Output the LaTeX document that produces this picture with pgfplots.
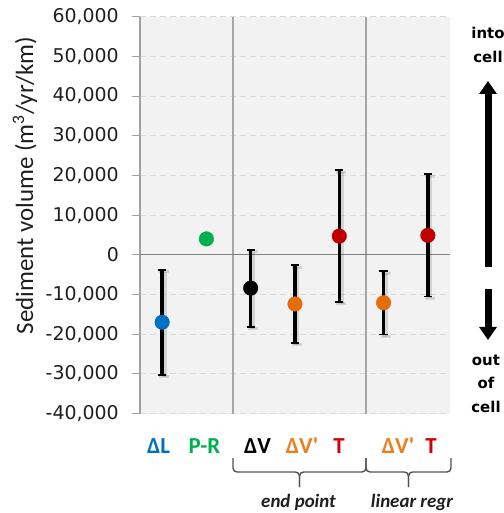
\documentclass[border=0pt]{standalone}
\usepackage{fontspec}
\setmainfont{Carlito}
\newfontfamily\carplain{Carlito}[Ligatures=TeXOff]
\newfontfamily\dejavu{DejaVu Sans}
\usepackage{pgfplots}
\pgfplotsset{compat=1.18}
\usetikzlibrary{arrows.meta}
\definecolor{cblue}{RGB}{0,112,192}
\definecolor{cgreen}{RGB}{0,176,80}
\definecolor{corange}{RGB}{228,108,10}
\definecolor{corangetxt}{RGB}{240,125,30}
\definecolor{cred}{RGB}{192,0,0}
\definecolor{credtxt}{RGB}{210,0,0}
\definecolor{bggray}{RGB}{242,242,242}
\definecolor{gridgray}{RGB}{217,217,217}
\definecolor{sepgray}{RGB}{166,166,166}
\definecolor{axgray}{RGB}{160,160,160}
\definecolor{zerogray}{RGB}{128,128,128}
\definecolor{tickcol}{RGB}{30,30,30}
\definecolor{bracecol}{RGB}{80,80,80}
\pgfplotstableread{
x   y      err
0  -17000  13200
2  -8400   9700
3  -12400  9750
4   4700   16600
5  -12100  8000
6   4900   15400
}\errdata
\begin{document}
\begin{tikzpicture}
\begin{axis}[
  at={(0,0)}, anchor=south west,
  width=310bp, height=396.8bp, scale only axis,
  xmin=-0.5, xmax=6.5, ymin=-40000, ymax=60000,
  scaled y ticks=false,
  axis background/.style={fill=bggray},
  axis y line*=left, axis x line*=bottom,
  x axis line style={draw=none},
  y axis line style={draw=axgray, line width=1.2bp, -},
  xtick=\empty,
  extra x ticks={1.6,4.6}, extra x tick labels={},
  extra x tick style={grid=major, major grid style={solid, draw=sepgray, line width=2bp}, major tick length=0pt},
  ytick={-40000,-30000,...,60000},
  yticklabels={{-40,000},{-30,000},{-20,000},{-10,000},{0},{10,000},{20,000},{30,000},{40,000},{50,000},{60,000}},
  extra y ticks={0}, extra y tick labels={},
  extra y tick style={grid=major, major grid style={solid, draw=zerogray, line width=1bp}, major tick length=0pt},
  ymajorgrids,
  major grid style={draw=gridgray, line width=1bp, dash pattern=on 6bp off 4bp},
  tick align=outside, major tick length=8bp,
  y tick style={draw=axgray, line width=1bp},
  yticklabel style={font=\dejavu\fontsize{19}{21}\selectfont, text=tickcol, anchor=east, inner sep=0pt, xshift=-13bp},
  clip=false,
  every axis plot/.append style={mark size=7.3bp},
]
% soft shadows of error bars
\addplot[draw=none, mark=none, xshift=2bp, yshift=-2bp, opacity=0.12,
  error bars/.cd, y dir=both, y explicit,
  error bar style={line width=5bp, black},
  error mark options={rotate=90, line width=3bp, mark size=5bp, black}]
  table[x=x, y=y, y error=err] {\errdata};
% error bars
\addplot[draw=none, mark=none,
  error bars/.cd, y dir=both, y explicit,
  error bar style={line width=3.5bp, black},
  error mark options={rotate=90, line width=1.8bp, mark size=4.2bp, black}]
  table[x=x, y=y, y error=err] {\errdata};
% markers
\addplot[only marks, mark=*, draw=cblue, fill=cblue] coordinates {(0,-17000)};
\addplot[only marks, mark=*, draw=cgreen, fill=cgreen] coordinates {(1,4000)};
\addplot[only marks, mark=*, draw=black, fill=black] coordinates {(2,-8400)};
\addplot[only marks, mark=*, draw=corange, fill=corange] coordinates {(3,-12400)};
\addplot[only marks, mark=*, draw=cred, fill=cred] coordinates {(4,4700)};
\addplot[only marks, mark=*, draw=corange, fill=corange] coordinates {(5,-12100)};
\addplot[only marks, mark=*, draw=cred, fill=cred] coordinates {(6,4900)};
\end{axis}
% y label
\node[rotate=90, font=\fontsize{25}{28}\selectfont, text=tickcol] at (-115bp,228bp) {Sediment volume (m\textsuperscript{3}/yr/km)};
% category labels
\begin{scope}[every node/.style={font=\carplain\bfseries\fontsize{23}{25}\selectfont}]
\node[text=cblue] at (18.5bp,-32.5bp) {ΔL};
\node[text=cgreen] at (64.5bp,-32.5bp) {P-R};
\node[text=black] at (117.5bp,-32.5bp) {ΔV};
\node[text=corangetxt] at (162bp,-32.5bp) {ΔV'};
\node[text=credtxt] at (199bp,-32.5bp) {T};
\node[text=corangetxt] at (258bp,-32.5bp) {ΔV'};
\node[text=credtxt] at (291bp,-32.5bp) {T};
\end{scope}
% braces
\begin{scope}[draw=bracecol, line width=1.4bp, rounded corners=4bp]
\draw (93bp,-44.5bp) -- (93bp,-58.5bp) -- (159.5bp,-58.5bp) -- (159.5bp,-73.5bp);
\draw (226bp,-44.5bp) -- (226bp,-58.5bp) -- (159.5bp,-58.5bp) -- (159.5bp,-73.5bp);
\draw (226bp,-44.5bp) -- (226bp,-58.5bp) -- (268.5bp,-58.5bp) -- (268.5bp,-73.5bp);
\draw (311bp,-44.5bp) -- (311bp,-58.5bp) -- (268.5bp,-58.5bp) -- (268.5bp,-73.5bp);
\end{scope}
\node[font=\bfseries\itshape\fontsize{19}{21}\selectfont, text=tickcol] at (158.5bp,-88.5bp) {end point};
\node[font=\bfseries\itshape\fontsize{19}{21}\selectfont, text=tickcol] at (272bp,-88.5bp) {linear regr};
% right side
\begin{scope}[every node/.style={font=\dejavu\bfseries\fontsize{15}{17}\selectfont, text=black, inner sep=0pt}]
\node at (348bp,380.5bp) {into};
\node at (348bp,356.5bp) {cell};
\node at (346bp,53.5bp) {out};
\node at (346bp,30.5bp) {of};
\node at (346bp,6.5bp) {cell};
\end{scope}
\draw[line width=7bp, -{Triangle[width=17bp,length=13bp]}] (348bp,146.5bp) -- (348bp,332.5bp);
\draw[line width=7bp, -{Triangle[width=17bp,length=13bp]}] (348bp,124.5bp) -- (348bp,73.5bp);
\pgfresetboundingbox
\path[use as bounding box] (-140bp,-99.5bp) rectangle (364bp,413.5bp);
\end{tikzpicture}
\end{document}
